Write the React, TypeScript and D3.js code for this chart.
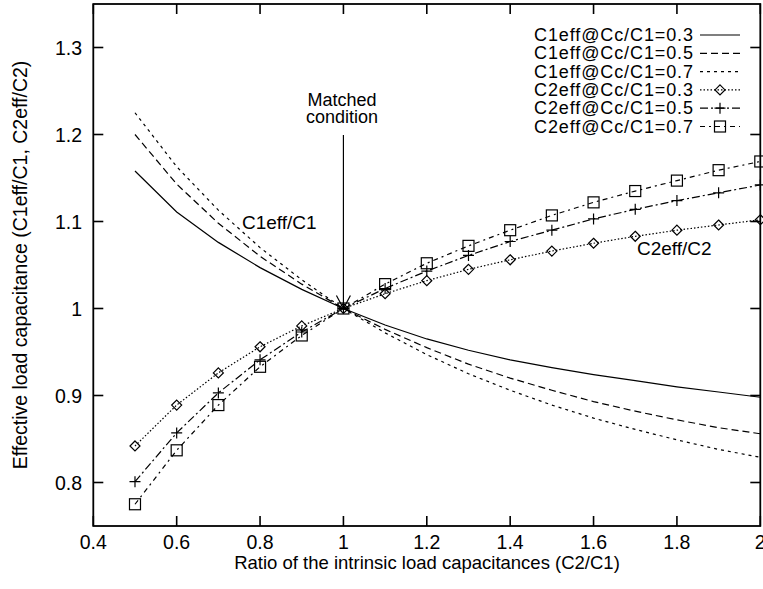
import React from 'react'
import * as d3 from 'd3'

// C2/C1 sample points
const ratios = [0.5, 0.6, 0.7, 0.8, 0.9, 1.0, 1.1, 1.2, 1.3, 1.4, 1.5, 1.6, 1.7, 1.8, 1.9, 2.0]

// C1eff/C1 curves
const c1eff03 = [1.158, 1.111, 1.076, 1.047, 1.022, 1.0, 0.981, 0.965, 0.952, 0.941, 0.932, 0.924, 0.917, 0.91, 0.904, 0.898]
const c1eff05 = [1.2, 1.143, 1.098, 1.06, 1.028, 1.0, 0.976, 0.955, 0.936, 0.92, 0.906, 0.893, 0.882, 0.872, 0.863, 0.856]
const c1eff07 = [1.225, 1.163, 1.113, 1.07, 1.033, 1.0, 0.972, 0.947, 0.925, 0.906, 0.889, 0.874, 0.861, 0.849, 0.838, 0.829]

// C2eff/C2 curves
const c2eff03 = [0.842, 0.889, 0.926, 0.956, 0.98, 1.0, 1.017, 1.032, 1.045, 1.056, 1.066, 1.075, 1.083, 1.09, 1.096, 1.102]
const c2eff05 = [0.801, 0.857, 0.903, 0.941, 0.973, 1.0, 1.023, 1.043, 1.061, 1.077, 1.09, 1.103, 1.114, 1.124, 1.133, 1.142]
const c2eff07 = [0.775, 0.837, 0.889, 0.933, 0.969, 1.0, 1.028, 1.052, 1.072, 1.09, 1.107, 1.122, 1.135, 1.147, 1.159, 1.169]

const seriesLabels = [
  'C1eff@Cc/C1=0.3',
  'C1eff@Cc/C1=0.5',
  'C1eff@Cc/C1=0.7',
  'C2eff@Cc/C1=0.3',
  'C2eff@Cc/C1=0.5',
  'C2eff@Cc/C1=0.7',
]

const xTicks = [0.4, 0.6, 0.8, 1.0, 1.2, 1.4, 1.6, 1.8, 2.0]
const yTicks = [0.8, 0.9, 1.0, 1.1, 1.2, 1.3]

const W = 763
const H = 589
const FONT = "'Liberation Sans', Arial, Helvetica, sans-serif"

const allSeries = [c1eff03, c1eff05, c1eff07, c2eff03, c2eff05, c2eff07]
const styles = [
  { dash: undefined, marker: null },
  { dash: '7,4', marker: null },
  { dash: '3,4', marker: null },
  { dash: '1.5,2', marker: 'diamond' },
  { dash: '8,3,2,3', marker: 'plus' },
  { dash: '5,4,2,4', marker: 'square' },
]

const Marker = ({ kind, cx, cy }: { kind: string | null; cx: number; cy: number }) => {
  if (kind === 'diamond') {
    return <path d={`M${cx},${cy - 5}L${cx + 5},${cy}L${cx},${cy + 5}L${cx - 5},${cy}Z`} fill="none" stroke="#000" strokeWidth={1.2} />
  }
  if (kind === 'plus') {
    return <path d={`M${cx - 5.5},${cy}H${cx + 5.5}M${cx},${cy - 5.5}V${cy + 5.5}`} stroke="#000" strokeWidth={1.2} />
  }
  if (kind === 'square') {
    return <rect x={cx - 5.5} y={cy - 5.5} width={11} height={11} fill="none" stroke="#000" strokeWidth={1.2} />
  }
  return null
}

const fmt = (v: number) => String(+v.toFixed(1))

export default function App() {
  const x = d3.scaleLinear().domain([0.4, 2]).range([93.3, 760.3])
  const y = d3.scaleLinear().domain([0.75, 1.35]).range([526, 4])

  const line = d3.line<number>()
    .x((_, i) => x(ratios[i]))
    .y(d => y(d))

  const tipX = x(1)
  const tipY = y(1)

  return (
    <svg width={W} height={H} style={{ position: 'absolute', left: 0, top: 0, background: '#fff' }} fontFamily={FONT}>
      <rect x={0} y={0} width={W} height={H} fill="#fff" />

      {/* data */}
      {allSeries.map((s, i) => (
        <path key={'l' + i} d={line(s) || ''} fill="none" stroke="#000" strokeWidth={1.2} strokeDasharray={styles[i].dash} />
      ))}
      {allSeries.map((s, i) =>
        styles[i].marker
          ? s.map((v, j) => <Marker key={'m' + i + '-' + j} kind={styles[i].marker} cx={x(ratios[j])} cy={y(v)} />)
          : null
      )}

      {/* frame and ticks */}
      <rect x={x(0.4)} y={y(1.35)} width={x(2) - x(0.4)} height={y(0.75) - y(1.35)} fill="none" stroke="#000" strokeWidth={1.8} />
      {xTicks.map(t => (
        <g key={'xt' + t}>
          <line x1={x(t)} x2={x(t)} y1={y(0.75)} y2={y(0.75) - 10} stroke="#000" strokeWidth={1.6} />
          <line x1={x(t)} x2={x(t)} y1={y(1.35)} y2={y(1.35) + 10} stroke="#000" strokeWidth={1.6} />
          <text x={x(t)} y={548.5} textAnchor="middle" fontSize={19.5}>{fmt(t)}</text>
        </g>
      ))}
      {yTicks.map(t => (
        <g key={'yt' + t}>
          <line x1={x(0.4)} x2={x(0.4) + 10} y1={y(t)} y2={y(t)} stroke="#000" strokeWidth={1.6} />
          <line x1={x(2)} x2={x(2) - 10} y1={y(t)} y2={y(t)} stroke="#000" strokeWidth={1.6} />
          <text x={82} y={y(t)} textAnchor="end" dominantBaseline="central" fontSize={19.5}>{fmt(t)}</text>
        </g>
      ))}

      {/* axis titles */}
      <text x={427} y={569} textAnchor="middle" fontSize={18.5}>Ratio of the intrinsic load capacitances (C2/C1)</text>
      <text transform={`translate(20,265) rotate(-90)`} textAnchor="middle" dominantBaseline="central" fontSize={19.5}>
        Effective load capacitance (C1eff/C1, C2eff/C2)
      </text>

      {/* annotations */}
      <text x={342} y={106} textAnchor="middle" fontSize={18}>Matched</text>
      <text x={342} y={123} textAnchor="middle" fontSize={18}>condition</text>
      <line x1={tipX} x2={tipX} y1={135} y2={tipY} stroke="#000" strokeWidth={1.2} />
      <polyline points={`${tipX - 7},${tipY - 13} ${tipX},${tipY} ${tipX + 7},${tipY - 13}`} fill="none" stroke="#000" strokeWidth={1.2} />
      <text x={242} y={222} dominantBaseline="central" fontSize={19}>C1eff/C1</text>
      <text x={637} y={248} dominantBaseline="central" fontSize={19}>C2eff/C2</text>

      {/* legend */}
      {seriesLabels.map((lab, i) => {
        const ly = 35 + i * 18.3
        return (
          <g key={'lg' + i}>
            <text x={693} y={ly} textAnchor="end" dominantBaseline="central" fontSize={18} textLength={159} lengthAdjust="spacing">{lab}</text>
            <line x1={700} x2={740} y1={ly} y2={ly} stroke="#000" strokeWidth={1.2} strokeDasharray={styles[i].dash} />
            <Marker kind={styles[i].marker} cx={720} cy={ly} />
          </g>
        )
      })}
    </svg>
  )
}
